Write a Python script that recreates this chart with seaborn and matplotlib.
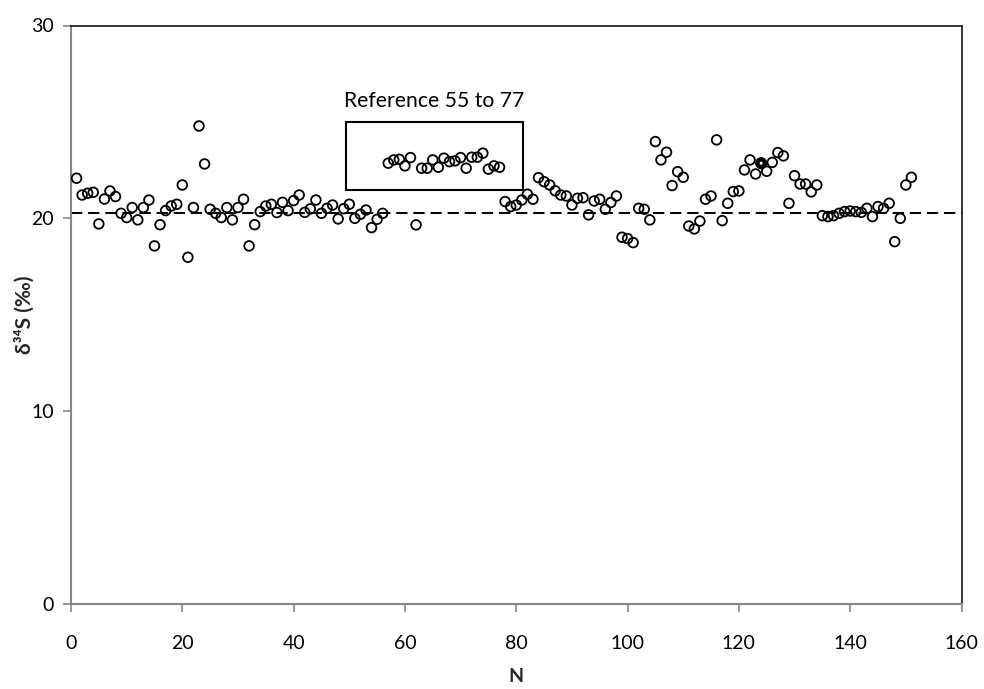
import matplotlib
matplotlib.use("Agg")
import matplotlib.pyplot as plt
from matplotlib.patches import Rectangle
import numpy as np
import pandas as pd
import seaborn as sns

# Sample index and measured sulfur isotope values (per mil)
sample_n = list(range(1, 152))
d34s = [
    22.08, 21.21, 21.30, 21.35, 19.71, 21.00, 21.42, 21.13, 20.26, 20.04,
    20.56, 19.92, 20.56, 20.95, 18.57, 19.67, 20.40, 20.64, 20.73, 21.73,
    17.98, 20.56, 24.79, 22.82, 20.47, 20.26, 20.04, 20.56, 19.92, 20.56,
    20.99, 18.57, 19.67, 20.35, 20.64, 20.73, 20.30, 20.83, 20.40, 20.92,
    21.21, 20.31, 20.49, 20.95, 20.26, 20.52, 20.69, 19.97, 20.50, 20.73,
    20.00, 20.21, 20.43, 19.52, 19.95, 20.26, 22.86, 23.03, 23.06, 22.72,
    23.15, 19.66, 22.60, 22.60, 23.03, 22.65, 23.12, 22.94, 22.98, 23.15,
    22.60, 23.17, 23.17, 23.38, 22.55, 22.72, 22.65, 20.87, 20.61, 20.69,
    20.95, 21.25, 20.99, 22.11, 21.90, 21.73, 21.43, 21.21, 21.16, 20.69,
    21.04, 21.07, 20.18, 20.90, 20.99, 20.47, 20.82, 21.16, 19.02, 18.95,
    18.74, 20.52, 20.47, 19.92, 23.98, 23.03, 23.43, 21.70, 22.42, 22.13,
    19.60, 19.45, 19.86, 20.99, 21.16, 24.07, 19.88, 20.78, 21.39, 21.42,
    22.51, 23.03, 22.30, 22.86, 22.44, 22.90, 23.41, 23.24, 20.78, 22.21,
    21.78, 21.78, 21.37, 21.73, 20.14, 20.09, 20.14, 20.26, 20.35, 20.38,
    20.35, 20.31, 20.52, 20.09, 20.61, 20.52, 20.78, 18.79, 20.00, 21.73,
    22.13,
]

# Repeated measurement shown with a heavy marker
highlight_n = [124]
highlight_d34s = [22.86]

# Reference level (dashed line)
reference_level = 20.3

x_ticks = [0, 20, 40, 60, 80, 100, 120, 140, 160]
y_ticks = [0, 10, 20, 30]

df = pd.DataFrame({"N": sample_n, "d34S": d34s})
hl = pd.DataFrame({"N": highlight_n, "d34S": highlight_d34s})

sns.set_theme(style="white")
plt.rcParams["font.family"] = ["Lato", "DejaVu Sans"]

fig = plt.figure(figsize=(9.84, 6.89), dpi=100)
ax_w_px, ax_h_px = 890.5, 578.5
ax = fig.add_axes([71 / 984, 85 / 689, ax_w_px / 984, ax_h_px / 689])

ax.axhline(reference_level, color="black", lw=1.45,
           linestyle=(0, (5.6, 2.9)), zorder=1)

sns.scatterplot(data=df, x="N", y="d34S", ax=ax, marker="o", s=48,
                facecolors="none", edgecolors="black", linewidths=1.3,
                zorder=3)
sns.scatterplot(data=hl, x="N", y="d34S", ax=ax, marker="o", s=30,
                facecolors="none", edgecolors="black", linewidths=3.2,
                zorder=4)

# Box around the reference samples
ax.add_patch(Rectangle((49.5, 21.47), 31.7, 3.51, fill=False,
                       edgecolor="black", lw=1.5, zorder=2))
ax.text(49.0, 25.75, "Reference 55 to 77", ha="left", va="baseline",
        fontsize=15.2, color="black")

ax.set_xlim(0, 160)
ax.set_ylim(0, 30)
ax.set_xticks(x_ticks)
ax.set_yticks(y_ticks)
ax.tick_params(axis="both", which="major", direction="out", length=5.5,
               width=1.2, color="#868686", labelsize=14, labelcolor="black",
               bottom=True, left=True, pad=7)
ax.tick_params(axis="x", pad=17)

for side in ("left", "bottom"):
    ax.spines[side].set_color("#868686")
    ax.spines[side].set_linewidth(1.5)
for side in ("top", "right"):
    ax.spines[side].set_color("black")
    ax.spines[side].set_linewidth(1.1)

ax.set_xlabel("N", fontsize=14, fontweight="bold", va="center")
ax.set_ylabel("δ³⁴S (‰)", fontsize=15, fontweight="bold", va="center")
ax.xaxis.set_label_coords(0.5, (604 - 677) / ax_h_px)
ax.yaxis.set_label_coords((24 - 71) / ax_w_px, 0.5)

fig.savefig("out.png", dpi=100)
